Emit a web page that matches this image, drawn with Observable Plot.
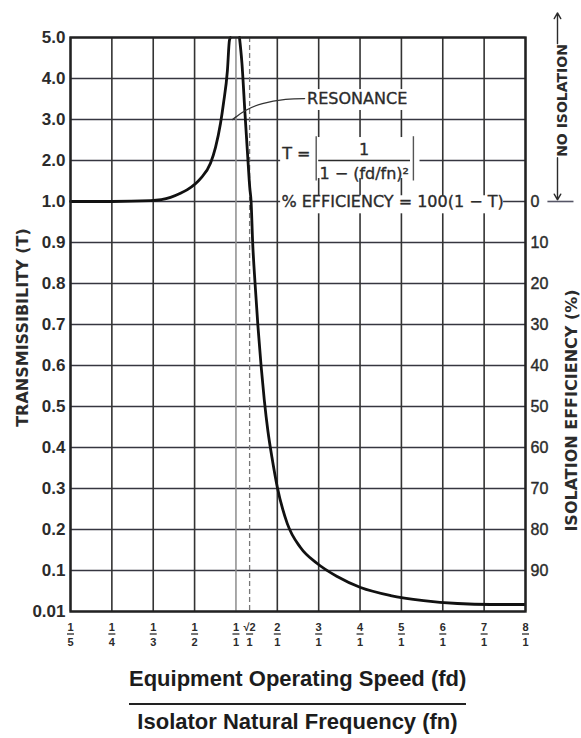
<!DOCTYPE html>
<html><head><meta charset="utf-8">
<script src="https://cdn.jsdelivr.net/npm/d3@7"></script>
<script src="https://cdn.jsdelivr.net/npm/@observablehq/plot@0.6"></script>
<style>
body{margin:0;background:#fff;width:581px;height:738px;overflow:hidden;font-family:"Liberation Sans",Arial,sans-serif;}
#chart svg{display:block}
.xt{width:337px;margin-left:129px;text-align:center;font-weight:bold;font-size:22px;line-height:24px;color:#1c1c1c;white-space:nowrap}
#t1{margin-top:12px;padding-bottom:12px;border-bottom:2px solid #222}
#t2{margin-top:5px}
</style></head><body>
<div id="chart"></div>
<div class="xt" id="t1">Equipment Operating Speed (fd)</div>
<div class="xt" id="t2">Isolator Natural Frequency (fn)</div>
<script>
// ---- data ----
const xTickValues = [0.2, 0.25, 1/3, 0.5, 1, 2, 3, 4, 5, 6, 7, 8];
const xTickNumerators = ["1","1","1","1","1","2","3","4","5","6","7","8"];
const xTickDenominators = ["5","4","3","2","1","1","1","1","1","1","1","1"];
const resonanceRatio = 1;
const rootTwoRatio = 1.33;
const rootTwoNumerator = "√2";
const rootTwoDenominator = "1";

const yTickValues = [0.01, 0.1, 0.2, 0.3, 0.4, 0.5, 0.6, 0.7, 0.8, 0.9, 1, 2, 3, 4, 5];
const yTickLabels = ["0.01","0.1","0.2","0.3","0.4","0.5","0.6","0.7","0.8","0.9","1.0","2.0","3.0","4.0","5.0"];
const efficiencyValues = [1, 0.9, 0.8, 0.7, 0.6, 0.5, 0.4, 0.3, 0.2, 0.1];
const efficiencyLabels = ["0","10","20","30","40","50","60","70","80","90"];

// transmissibility curve below resonance (fd/fn, T)
const belowRatio = [0.2, 0.25, 0.328, 0.403, 0.443, 0.471, 0.571, 0.692, 0.753, 0.813, 0.849, 0.897, 0.921, 0.934];
const belowT     = [1.0, 1.0, 1.02, 1.10, 1.20, 1.29, 1.56, 1.93, 2.32, 2.90, 3.39, 4.20, 4.93, 5.0];
// transmissibility curve above resonance
const aboveRatio = [1.085, 1.145, 1.218, 1.286, 1.334, 1.366, 1.404, 1.462, 1.53, 1.607, 1.684, 1.774, 1.87, 1.996, 2.239, 2.56, 2.964, 3.447, 4.012, 4.737, 5.535, 6.356, 7.154, 7.976];
const aboveT     = [5.0, 4.37, 3.15, 2.07, 1.34, 1.0, 0.9, 0.8, 0.698, 0.6, 0.517, 0.439, 0.376, 0.305, 0.215, 0.156, 0.117, 0.0868, 0.0627, 0.0451, 0.0341, 0.0276, 0.0254, 0.0254];

// annotations (data coordinates)
const resonanceLabel = "RESONANCE";
const resonanceLabelAt = [2.72, 3.5];
const leaderRatio = [2.66, 2.2, 1.64, 1.23, 1.01, 0.958];
const leaderT     = [3.51, 3.49, 3.39, 3.22, 3.07, 3.0];
const formulaLhs = "T =";
const formulaLhsAt = [2.8, 2.15];
const formulaNumerator = "1";
const formulaNumeratorAt = [4.1, 2.25];
const formulaDenominator = "1 − (fd/fn)²";
const formulaDenominatorAt = [4.1, 1.68];
const formulaAbsRatio = [2.94, 5.29];
const formulaAbsT = [1.5, 2.58];
const formulaBarRatio = [3.0, 5.22];
const formulaBarT = 2.0;
const efficiencyFormula = "% EFFICIENCY = 100(1 − T)";
const efficiencyFormulaAt = [2.1, 1.0];
const whiteBoxes = [
  {x1: 2.08, x2: 5.45, y1: 1.56, y2: 2.56},
  {x1: 2.08, x2: 7.47, y1: 0.97, y2: 1.14},
  {x1: 2.72, x2: 5.22, y1: 3.22, y2: 3.73}
];
const noIsolationLabel = "NO ISOLATION";
const noIsolationArrows = [{y1: 4.85, y2: 5.6}, {y1: 2.07, y2: 1.04}];
const noIsolationBar = {x1: 8.53, x2: 9.16, y: 1};
const leftTitle = "TRANSMISSIBILITY (T)";
const rightTitle = "ISOLATION EFFICIENCY (%)";

// ---- build tables ----
const curve = [
  ...belowRatio.map((r, i) => ({r, t: belowT[i], branch: "below"})),
  ...aboveRatio.map((r, i) => ({r, t: aboveT[i], branch: "above"}))
];
const leader = leaderRatio.map((r, i) => ({r, t: leaderT[i]}));
const xTicks = xTickValues.map((v, i) => ({v, num: xTickNumerators[i], den: xTickDenominators[i]}))
  .concat([{v: rootTwoRatio, num: rootTwoNumerator, den: rootTwoDenominator}]);
const yTicks = yTickValues.map((v, i) => ({v, label: yTickLabels[i]}));
const effTicks = efficiencyValues.map((v, i) => ({v, label: efficiencyLabels[i]}));

// horizontal-bar symbol for fraction bars
const fractionBar = {draw(ctx, size) { const w = Math.sqrt(size / Math.PI); ctx.moveTo(-w, 0); ctx.lineTo(w, 0); }};

const dark = "#2b2b2b";
const annot = {fontFamily: "DejaVu Sans", fontSize: 16, fill: dark, stroke: dark, strokeWidth: 0.35};
const svg = Plot.plot({
  width: 581, height: 655,
  marginLeft: 70, marginRight: 56, marginTop: 37, marginBottom: 44,
  x: {type: "linear", domain: xTickValues, axis: null},
  y: {type: "linear", domain: yTickValues, axis: null},
  style: {background: "white", fontFamily: "Liberation Sans, Arial, sans-serif", overflow: "visible"},
  marks: [
    Plot.ruleY(yTickValues, {stroke: "#363640", strokeWidth: 1.6}),
    Plot.ruleX(xTickValues.filter(v => v !== resonanceRatio), {stroke: "#333", strokeWidth: 1.6}),
    Plot.ruleX([resonanceRatio], {stroke: "#8c8c8c", strokeWidth: 1.5}),
    Plot.ruleX([rootTwoRatio], {stroke: "#777", strokeWidth: 1.3, strokeDasharray: "5,3"}),
    Plot.rect(whiteBoxes, {x1: "x1", x2: "x2", y1: "y1", y2: "y2", fill: "white"}),
    Plot.line(curve, {x: "r", y: "t", z: "branch", stroke: "#111", strokeWidth: 2.8, curve: "monotone-x"}),
    Plot.line(leader, {x: "r", y: "t", stroke: "#333", strokeWidth: 1.3, curve: "natural"}),
    // formula
    Plot.text([resonanceLabel], {x: resonanceLabelAt[0], y: resonanceLabelAt[1], text: d => d, textAnchor: "start", ...annot}),
    Plot.text([formulaLhs], {x: formulaLhsAt[0], y: formulaLhsAt[1], text: d => d, textAnchor: "end", ...annot}),
    Plot.text([formulaNumerator], {x: formulaNumeratorAt[0], y: formulaNumeratorAt[1], text: d => d, ...annot}),
    Plot.text([formulaDenominator], {x: formulaDenominatorAt[0], y: formulaDenominatorAt[1], text: d => d, ...annot}),
    Plot.ruleX(formulaAbsRatio, {y1: formulaAbsT[0], y2: formulaAbsT[1], stroke: "#555", strokeWidth: 1.4}),
    Plot.ruleY([formulaBarT], {x1: formulaBarRatio[0], x2: formulaBarRatio[1], stroke: dark, strokeWidth: 1.4}),
    Plot.text([efficiencyFormula], {x: efficiencyFormulaAt[0], y: efficiencyFormulaAt[1], text: d => d, textAnchor: "start", ...annot}),
    Plot.frame({stroke: "#222", strokeWidth: 2.4}),
    // left tick labels
    Plot.text(yTicks, {y: "v", text: "label", frameAnchor: "left", dx: -5, textAnchor: "end", fontSize: 17, fontWeight: "bold", fill: dark}),
    // right efficiency labels
    Plot.text(effTicks, {y: "v", text: "label", frameAnchor: "right", dx: 5, textAnchor: "start", fontSize: 16, fill: dark, stroke: dark, strokeWidth: 0.4}),
    // x fraction labels (numerator over denominator, with a bar)
    Plot.text(xTicks, {x: "v", text: d => `${d.num}\n${d.den}`, frameAnchor: "bottom", lineAnchor: "middle", dy: 22.5, lineHeight: 1.36, fontSize: 11, fontWeight: "bold", fill: dark}),
    Plot.dot(xTicks, {x: "v", frameAnchor: "bottom", dy: 22.5, symbol: fractionBar, r: 3.5, stroke: dark, strokeWidth: 1.3}),
    // side titles
    Plot.text([leftTitle], {text: d => d, frameAnchor: "left", textAnchor: "middle", dx: -48, dy: 3, rotate: -90, fontFamily: "DejaVu Sans", fontWeight: "bold", fontSize: 16, fill: dark}),
    Plot.text([rightTitle], {text: d => d, frameAnchor: "right", textAnchor: "middle", dx: 46, dy: 86, rotate: -90, fontFamily: "DejaVu Sans", fontWeight: "bold", fontSize: 16, fill: dark}),
    Plot.text([noIsolationLabel], {text: d => d, frameAnchor: "top-right", textAnchor: "middle", dx: 32, dy: 63, rotate: -90, fontFamily: "DejaVu Sans", fontWeight: "bold", fontSize: 14, fill: dark}),
    Plot.arrow(noIsolationArrows, {x1: () => 8, x2: () => 8, y1: "y1", y2: "y2", dx: 32, stroke: dark, strokeWidth: 1.4, headLength: 7}),
    Plot.link([noIsolationBar], {x1: "x1", x2: "x2", y1: "y", y2: "y", stroke: "#556", strokeWidth: 1.6})
  ]
});
document.getElementById("chart").appendChild(svg);
</script>
</body></html>
